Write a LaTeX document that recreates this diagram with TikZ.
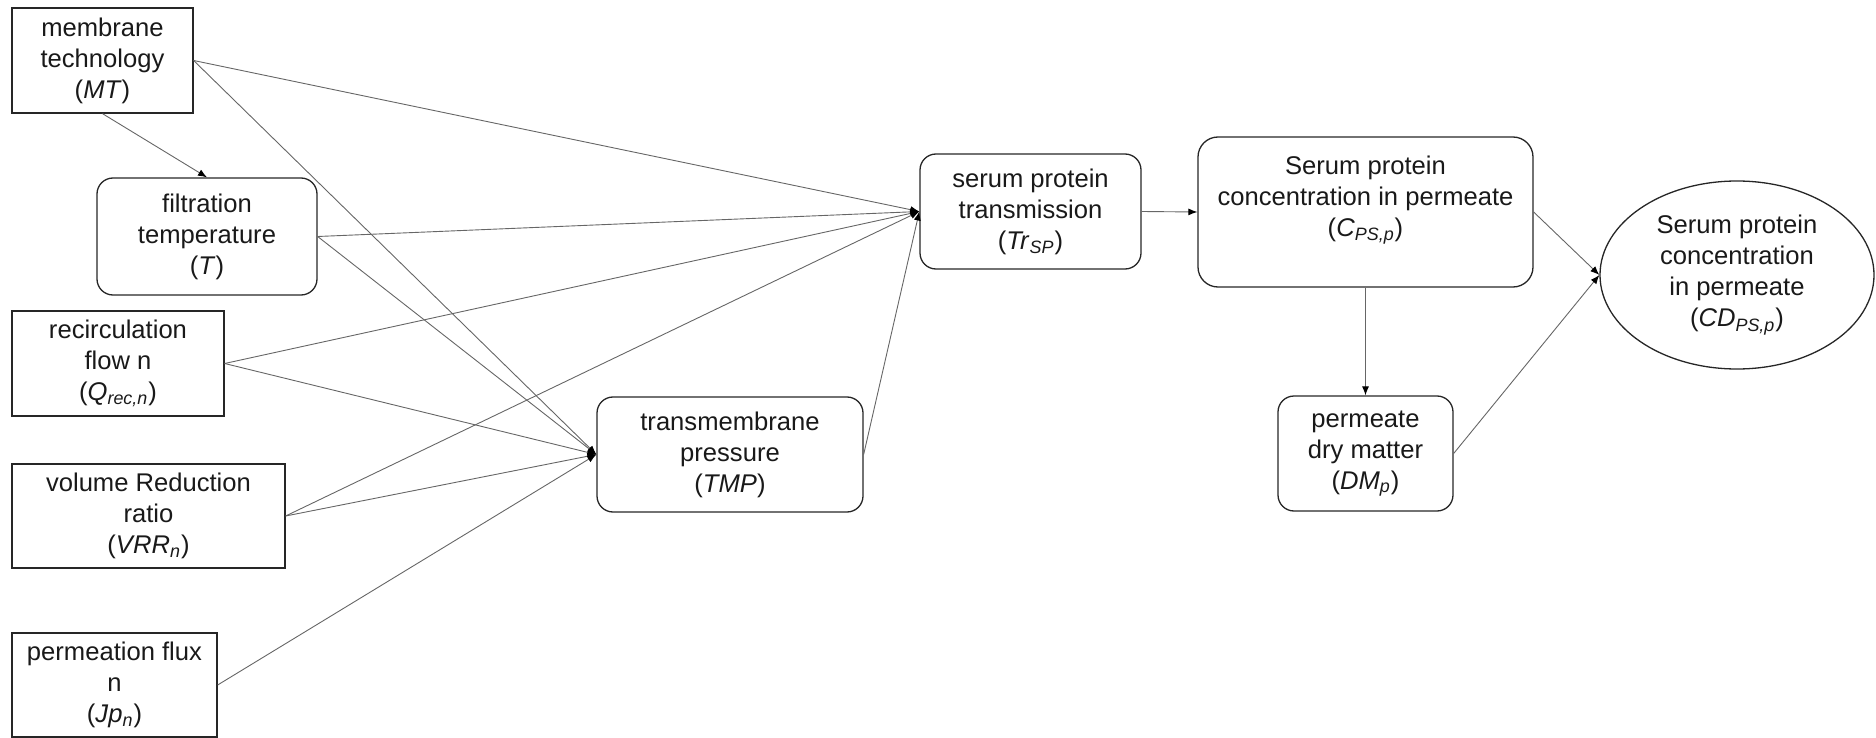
\documentclass[tikz,border=0pt]{standalone}
\usepackage{fontspec}
\setmainfont{Liberation Sans}
\usetikzlibrary{arrows.meta,shapes.geometric}

% italic symbol with an italic subscript
\newcommand{\vsym}[2]{\textit{#1}\textsubscript{\textit{#2}}}

\begin{document}
\begin{tikzpicture}[x=0.5pt,y=-0.5pt,
  lbl/.style={font=\fontsize{12.8}{15.5}\selectfont, align=center, text=black!90},
  sqbox/.style={lbl, draw=black!85, line width=0.65pt, rectangle, inner sep=0pt},
  rbox/.style={lbl, draw=black!85, line width=0.65pt, rectangle, rounded corners=8pt, inner sep=0pt},
  link/.style={draw=black!60, line width=0.45pt, -{Latex[length=4.5pt,width=3.5pt,color=black]}}
]
\useasboundingbox (0,0) rectangle (1876,738);

% inputs (left column)
\node[sqbox, minimum width=181pt*0.5, minimum height=105pt*0.5] (mt) at (102.5,60.5)
  {membrane\\technology\\(\textit{MT})};
\node[rbox, minimum width=220pt*0.5, minimum height=117pt*0.5] (temp) at (207,236.5)
  {filtration\\temperature\\(\textit{T})};
\node[sqbox, minimum width=212pt*0.5, minimum height=105pt*0.5] (qrec) at (118,363.5)
  {recirculation\\flow n\\(\vsym{Q}{rec,n})};
\node[sqbox, minimum width=273pt*0.5, minimum height=104pt*0.5] (vrr) at (148.5,516)
  {volume Reduction\\ratio\\(\vsym{VRR}{n})};
\node[sqbox, minimum width=205pt*0.5, minimum height=104pt*0.5] (jp) at (114.5,685)
  {permeation flux\\n\\(\vsym{Jp}{n})};

% intermediate variables
\node[rbox, minimum width=266pt*0.5, minimum height=115pt*0.5] (tmp) at (730,454.5)
  {transmembrane\\pressure\\(\textit{TMP})};
\node[rbox, minimum width=221pt*0.5, minimum height=115pt*0.5] (tr) at (1030.5,211.5)
  {serum protein\\transmission\\(\vsym{Tr}{SP})};
\node[rbox, rounded corners=10pt, minimum width=335pt*0.5, minimum height=150pt*0.5] (cps) at (1365.5,212) {};
\node[lbl] (cpstext) at (1365.5,200)
  {Serum protein\\concentration in permeate\\(\vsym{C}{PS,p})};
\node[rbox, minimum width=175pt*0.5, minimum height=115pt*0.5] (dm) at (1365.5,453.5)
  {permeate\\dry matter\\(\vsym{DM}{p})};

% output
\node[lbl, draw=black!85, line width=0.65pt, ellipse, inner sep=0pt,
      minimum width=274pt*0.5, minimum height=188pt*0.5] (cd) at (1737,275)
  {Serum protein\\concentration\\in permeate\\(\vsym{CD}{PS,p})};

% connectors
\draw[link] (mt.south) -- (temp.north);
\foreach \src in {mt,temp,qrec,vrr}{
  \draw[link] (\src.east) -- (tr.west);
  \draw[link] (\src.east) -- (tmp.west);
}
\draw[link] (jp.east) -- (tmp.west);
\draw[link] (tmp.east) -- (tr.west);
\draw[link] (tr.east) -- (cps.west);
\draw[link] (cps.south) -- (dm.north);
\draw[link] (cps.east) -- (cd.west);
\draw[link] (dm.east) -- (cd.west);
\end{tikzpicture}
\end{document}
